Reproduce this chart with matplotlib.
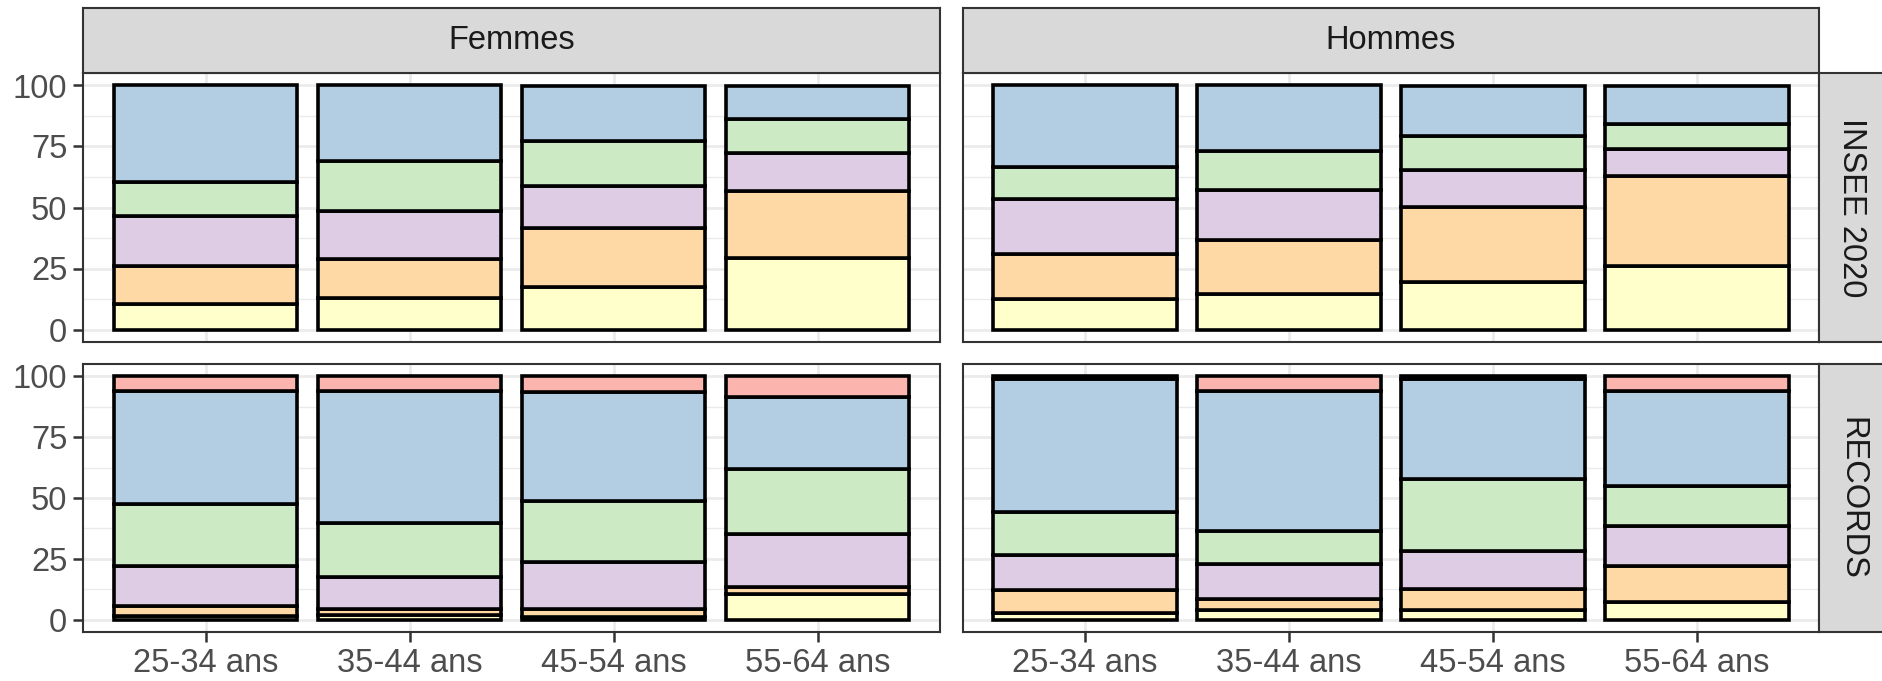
import matplotlib
matplotlib.use("Agg")
import matplotlib.pyplot as plt
import numpy as np

plt.rcParams['font.family'] = ['Liberation Sans', 'DejaVu Sans']

# Age groups on the x axis, facet labels
age_groups = ["25-34 ans", "35-44 ans", "45-54 ans", "55-64 ans"]
sexes = ["Femmes", "Hommes"]
sources = ["INSEE 2020", "RECORDS"]

# Stacked shares (%), from the bottom segment up, one list per age group
femmes_insee = {
    "classe_1": [10.4, 13.1, 17.4, 29.5],
    "classe_2": [15.7, 15.8, 24.1, 27.3],
    "classe_3": [20.5, 19.8, 17.3, 15.7],
    "classe_4": [13.9, 20.4, 18.4, 13.7],
    "classe_5": [39.5, 30.9, 22.8, 13.8],
    "classe_6": [0.0, 0.0, 0.0, 0.0],
}
hommes_insee = {
    "classe_1": [12.6, 14.4, 19.6, 26.0],
    "classe_2": [18.5, 22.3, 30.5, 37.1],
    "classe_3": [22.5, 20.6, 15.4, 10.9],
    "classe_4": [13.0, 15.9, 13.8, 10.1],
    "classe_5": [33.4, 26.8, 20.7, 15.9],
    "classe_6": [0.0, 0.0, 0.0, 0.0],
}
femmes_records = {
    "classe_1": [1.5, 1.8, 1.2, 10.5],
    "classe_2": [4.2, 2.6, 3.3, 2.8],
    "classe_3": [16.4, 13.3, 19.2, 21.8],
    "classe_4": [25.4, 22.1, 25.1, 27.0],
    "classe_5": [46.5, 54.2, 44.7, 29.6],
    "classe_6": [6.0, 6.0, 6.5, 8.3],
}
hommes_records = {
    "classe_1": [2.6, 3.8, 4.1, 7.2],
    "classe_2": [9.4, 4.6, 8.6, 14.9],
    "classe_3": [14.6, 14.4, 15.3, 16.4],
    "classe_4": [17.7, 13.6, 29.7, 16.5],
    "classe_5": [54.7, 57.6, 41.3, 39.0],
    "classe_6": [1.0, 6.0, 1.0, 6.0],
}

panels = {
    ("INSEE 2020", "Femmes"): femmes_insee,
    ("INSEE 2020", "Hommes"): hommes_insee,
    ("RECORDS", "Femmes"): femmes_records,
    ("RECORDS", "Hommes"): hommes_records,
}

# Pastel1 fills, bottom to top
fills = {
    "classe_1": "#FFFFCC",
    "classe_2": "#FED9A6",
    "classe_3": "#DECBE4",
    "classe_4": "#CCEBC5",
    "classe_5": "#B3CDE3",
    "classe_6": "#FBB4AE",
}

W, H = 1883, 681
fig = plt.figure(figsize=(W / 100, H / 100), dpi=100)


def rect(x0, y0, x1, y1):
    return [x0 / W, 1 - y1 / H, (x1 - x0) / W, (y1 - y0) / H]


col_x = [(83.3, 940.0), (962.7, 1819.3)]
row_y = [(73.3, 341.7), (364.3, 631.7)]
strip_top = 8.0
strip_right = 1819.3 + 65.0

GRID = "#EBEBEB"
BORDER = "#333333"
TICK_TXT = "#4D4D4D"
STRIP_TXT = "#1A1A1A"
STRIP_BG = "#D9D9D9"
FS = 23.5

x = np.arange(len(age_groups))

for r, source in enumerate(sources):
    for c, sex in enumerate(sexes):
        (x0, x1), (y0, y1) = col_x[c], row_y[r]
        ax = fig.add_axes(rect(x0, y0, x1, y1))
        ax.set_xlim(-0.6, len(age_groups) - 0.4)
        ax.set_ylim(-5, 105)

        # grid: major every 25, minor halfway
        for v in [0, 25, 50, 75, 100]:
            ax.axhline(v, color=GRID, lw=2.0, zorder=0)
        for v in [12.5, 37.5, 62.5, 87.5]:
            ax.axhline(v, color=GRID, lw=1.0, zorder=0)
        for xi in x:
            ax.axvline(xi, color=GRID, lw=2.0, zorder=0)

        data = panels[(source, sex)]
        bottom = np.zeros(len(age_groups))
        for key, vals in data.items():
            vals = np.array(vals)
            mask = vals > 0
            ax.bar(x[mask], vals[mask], bottom=bottom[mask], width=0.9,
                   color=fills[key], edgecolor="black", linewidth=2.6,
                   zorder=2)
            bottom = bottom + vals

        for s in ax.spines.values():
            s.set_color(BORDER)
            s.set_linewidth(1.5)
            s.set_zorder(5)

        ax.set_yticks([0, 25, 50, 75, 100])
        ax.set_xticks(x)
        ax.tick_params(axis="both", length=7.5, width=1.8, color=BORDER,
                       labelsize=FS, labelcolor=TICK_TXT, pad=4)
        if c == 0:
            ax.set_yticklabels(["0", "25", "50", "75", "100"])
        else:
            ax.tick_params(axis="y", left=False, labelleft=False)
        if r == 1:
            ax.set_xticklabels(age_groups)
        else:
            ax.tick_params(axis="x", bottom=False, labelbottom=False)

        # column strips on top
        if r == 0:
            sax = fig.add_axes(rect(x0, strip_top, x1, y0))
            sax.set_facecolor(STRIP_BG)
            sax.set_xticks([])
            sax.set_yticks([])
            for s in sax.spines.values():
                s.set_color(BORDER)
                s.set_linewidth(1.5)
            sax.text(0.5, 0.5, sex, ha="center", va="center",
                     fontsize=FS, color=STRIP_TXT, transform=sax.transAxes)

        # row strips on the right
        if c == 1:
            sax = fig.add_axes(rect(x1, y0, strip_right, y1))
            sax.set_facecolor(STRIP_BG)
            sax.set_xticks([])
            sax.set_yticks([])
            for s in sax.spines.values():
                s.set_color(BORDER)
                s.set_linewidth(1.5)
            sax.text(0.5, 0.5, source, ha="center", va="center",
                     rotation=270, fontsize=FS, color=STRIP_TXT,
                     transform=sax.transAxes)

fig.savefig("out.png", dpi=100, facecolor="white")
